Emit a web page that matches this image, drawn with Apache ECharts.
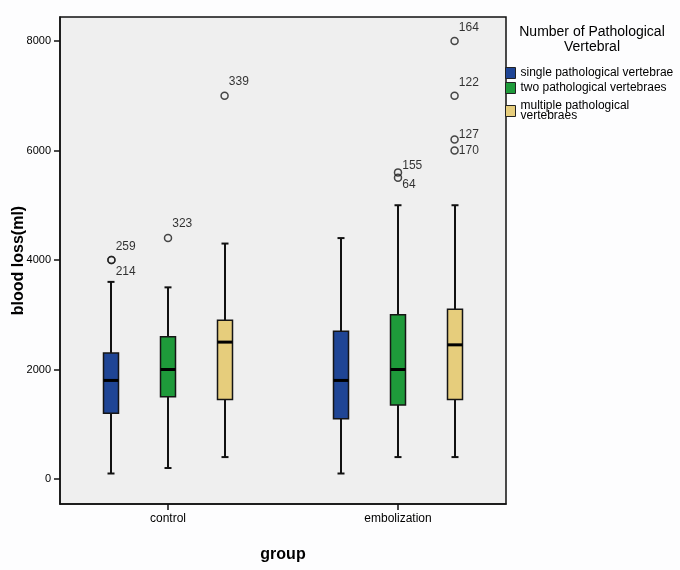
<!DOCTYPE html>
<html>
<head>
<meta charset="utf-8">
<script src="https://cdn.jsdelivr.net/npm/echarts@6/dist/echarts.min.js"></script>
<style>
  html, body { margin: 0; background: #fdfdfe; }
  #main { width: 680px; height: 570px; }
</style>
</head>
<body>
<div id="main"></div>
<script>
const groups = ["control", "embolization"];
const seriesNames = [
  "single pathological vertebrae",
  "two pathological vertebraes",
  "multiple pathological vertebraes"
];
// [min, Q1, median, Q3, max] for control / embolization
const single = [[100, 1200, 1800, 2300, 3600], [100, 1100, 1800, 2700, 4400]];
const two = [[200, 1500, 2000, 2600, 3500], [400, 1350, 2000, 3000, 5000]];
const multiple = [[400, 1450, 2500, 2900, 4300], [400, 1450, 2450, 3100, 5000]];

// outliers: case id, group index, subgroup index, value
const outlierIds = ["259", "214", "323", "339", "155", "64", "164", "122", "127", "170"];
const outlierGroup = [0, 0, 0, 0, 1, 1, 1, 1, 1, 1];
const outlierSub = [0, 0, 1, 2, 1, 1, 2, 2, 2, 2];
const outlierValues = [4000, 4000, 4400, 7000, 5600, 5500, 8000, 7000, 6200, 6000];

const yTicks = [0, 2000, 4000, 6000, 8000];

const colors = ["#1f4595", "#1e9a3a", "#e6cd7c"];
const subOffset = [-0.246, 0, 0.246];
const labelShift = { "259": -13, "214": 12, "323": -14, "339": -14, "155": -7, "64": 7,
  "164": -13, "122": -13, "127": -5, "170": 0 };
const font = "'Liberation Sans', Arial, sans-serif";

const chart = echarts.init(document.getElementById("main"));

const renderBox = (params, api) => {
  const x = api.value(0);
  const lo = api.coord([x, api.value(1)]);
  const q1 = api.coord([x, api.value(2)]);
  const md = api.coord([x, api.value(3)]);
  const q3 = api.coord([x, api.value(4)]);
  const hi = api.coord([x, api.value(5)]);
  const cx = Math.round(lo[0]);
  const hw = 7.5, cap = 3.5;
  const line = { stroke: "#111", lineWidth: 2 };
  return {
    type: "group",
    children: [
      { type: "line", shape: { x1: cx, y1: hi[1], x2: cx, y2: q3[1] }, style: line },
      { type: "line", shape: { x1: cx, y1: q1[1], x2: cx, y2: lo[1] }, style: line },
      { type: "line", shape: { x1: cx - cap, y1: hi[1], x2: cx + cap, y2: hi[1] }, style: line },
      { type: "line", shape: { x1: cx - cap, y1: lo[1], x2: cx + cap, y2: lo[1] }, style: line },
      {
        type: "rect",
        shape: { x: cx - hw, y: q3[1], width: hw * 2, height: q1[1] - q3[1] },
        style: { fill: api.visual("color"), stroke: "#151515", lineWidth: 1.5 }
      },
      { type: "line", shape: { x1: cx - hw, y1: md[1], x2: cx + hw, y2: md[1] }, style: { stroke: "#000", lineWidth: 3 } }
    ]
  };
};

const boxSeries = [single, two, multiple].map((stats, s) => ({
  name: seriesNames[s],
  type: "custom",
  renderItem: renderBox,
  itemStyle: { color: colors[s] },
  encode: { x: 0, y: [1, 2, 3, 4, 5] },
  data: stats.map((d, g) => [g + 1 + subOffset[s]].concat(d)),
  z: 2
}));

const outlierSeries = {
  type: "scatter",
  symbol: "circle",
  symbolSize: 7,
  itemStyle: { color: "rgba(0,0,0,0)", borderColor: "#1a1a1a", borderWidth: 1.5 },
  data: outlierIds.map((id, i) => ({
    name: id,
    value: [outlierGroup[i] + 1 + subOffset[outlierSub[i]], outlierValues[i]],
    label: { offset: [0, labelShift[id]] }
  })),
  label: {
    show: true,
    position: "right",
    distance: 0,
    formatter: "{b}",
    fontFamily: font,
    fontSize: 12,
    color: "#000"
  },
  emphasis: { disabled: true },
  z: 3
};

const legendBase = {
  orient: "vertical",
  left: 505,
  padding: 0,
  itemWidth: 10,
  itemHeight: 11,
  icon: "rect",
  selectedMode: false,
  itemStyle: { borderColor: "#222", borderWidth: 1 }
};

chart.setOption({
  animation: false,
  textStyle: { fontFamily: font },
  title: {
    text: "Number of Pathological\nVertebral",
    left: 592,
    top: 25,
    textAlign: "center",
    padding: 0,
    textStyle: { fontFamily: font, fontSize: 14, fontWeight: "normal", color: "#000", lineHeight: 15 }
  },
  legend: [
    Object.assign({}, legendBase, {
      data: [seriesNames[0], seriesNames[1]],
      top: 67,
      itemGap: 3,
      textStyle: { fontFamily: font, fontSize: 12, color: "#000" }
    }),
    Object.assign({}, legendBase, {
      data: [seriesNames[2]],
      top: 100,
      formatter: () => "multiple pathological\nvertebraes",
      textStyle: { fontFamily: font, fontSize: 12, color: "#000", lineHeight: 10 }
    })
  ],
  grid: {
    left: 60,
    right: 174,
    top: 17,
    bottom: 66,
    containLabel: false,
    outerBoundsMode: "none",
    show: true,
    backgroundColor: "#efefef",
    borderColor: "#111",
    borderWidth: 1.5
  },
  xAxis: {
    type: "value",
    min: 0.5304,
    max: 2.4696,
    name: "group",
    nameLocation: "middle",
    nameGap: 43,
    nameMoveOverlap: false,
    nameTextStyle: { fontFamily: font, fontSize: 16, fontWeight: "bold", color: "#000" },
    splitLine: { show: false },
    axisLine: { onZero: false, lineStyle: { color: "#111", width: 1.5 } },
    axisTick: { customValues: [1, 2], length: 6, lineStyle: { color: "#111", width: 1.5 } },
    axisLabel: {
      customValues: [1, 2],
      formatter: (v) => groups[Math.round(v) - 1],
      margin: 9,
      fontSize: 12,
      color: "#000"
    }
  },
  yAxis: {
    type: "value",
    min: -457,
    max: 8438,
    name: "blood loss(ml)",
    nameLocation: "middle",
    nameGap: 33,
    nameMoveOverlap: false,
    nameTextStyle: { fontFamily: font, fontSize: 16, fontWeight: "bold", color: "#000" },
    splitLine: { show: false },
    axisLine: { onZero: false, lineStyle: { color: "#111", width: 1.5 } },
    axisTick: { customValues: yTicks, length: 6, lineStyle: { color: "#111", width: 1.5 } },
    axisLabel: {
      customValues: yTicks,
      formatter: (v) => String(v),
      margin: 9,
      fontSize: 11,
      color: "#000"
    }
  },
  series: boxSeries.concat([outlierSeries])
});

window.addEventListener("resize", () => chart.resize());
</script>
</body>
</html>
